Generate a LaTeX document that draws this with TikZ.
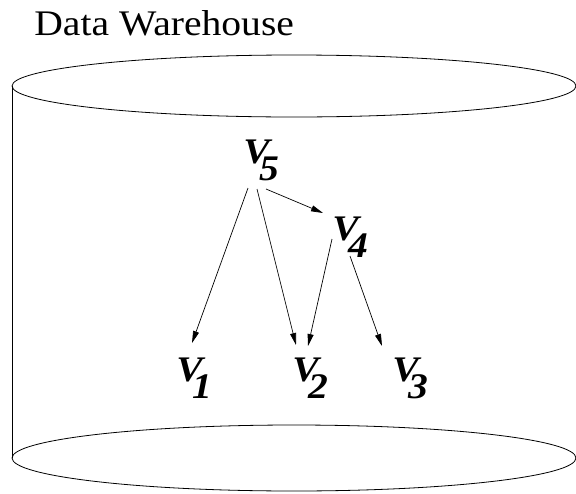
\documentclass[tikz,border=0pt]{standalone}
\usepackage{fontspec}
\setmainfont{Liberation Serif}
\usepackage{tikz}
\usetikzlibrary{arrows.meta}

% text is set a little wide
\newcommand{\widen}[1]{\scalebox{1.1}[1]{#1}}
% view name: bold italic V with a lowered digit
\newcommand{\vname}[1]{\widen{V\kern-0.27em\raisebox{-0.48em}{#1}}}

\begin{document}
\begin{tikzpicture}[
  x=1pt, y=-1pt,
  line width=0.8pt,
  view/.style={inner sep=0pt, anchor=base west,
               font=\fontsize{36}{36}\selectfont\bfseries\itshape},
  arr/.style={-{Triangle[length=12pt, width=6pt]}, line width=0.7pt},
]
\useasboundingbox (0,0) rectangle (576,493);
% the warehouse drum
\draw (294,86) ellipse [x radius=282, y radius=31];
\draw (294,458) ellipse [x radius=282, y radius=33];
\draw (12,86) -- (12,458);
\node[anchor=base west, inner sep=0pt, font=\fontsize{36}{36}\selectfont] (title) at (34,35) {\widen{Data Warehouse}};
% views
\node[view] (v5) at (243,163) {\vname{5}};
\node[view] (v4) at (332,240) {\vname{4}};
\node[view] (v1) at (176,381) {\vname{1}};
\node[view] (v2) at (292,381) {\vname{2}};
\node[view] (v3) at (392,381) {\vname{3}};
\draw[arr] ([shift={(5,25)}]v5.base west) -- ([shift={(16,-38)}]v1.base west);
\draw[arr] ([shift={(14,26)}]v5.base west) -- ([shift={(4,-36)}]v2.base west);
\draw[arr] ([shift={(23,26)}]v5.base west) -- ([shift={(-9,-27)}]v4.base west);
\draw[arr] ([shift={(0,-1)}]v4.base west) -- ([shift={(16,-35)}]v2.base west);
\draw[arr] ([shift={(18,16)}]v4.base west) -- ([shift={(-10,-35)}]v3.base west);
\end{tikzpicture}
\end{document}
